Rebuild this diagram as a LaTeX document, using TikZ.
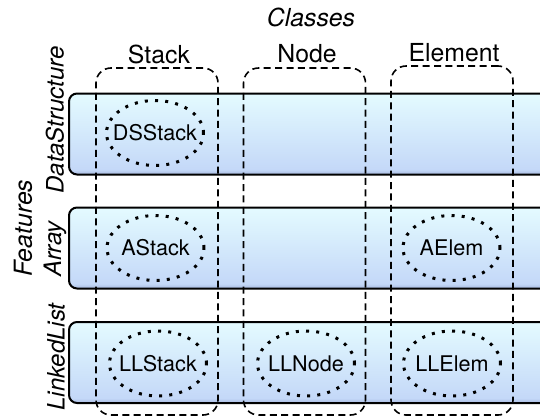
\documentclass[tikz,border=0pt]{standalone}
\usepackage{fontspec}
\setmainfont{TeX Gyre Heros}
\usetikzlibrary{shapes.geometric}
\definecolor{barTop}{HTML}{E4FBFF}
\definecolor{barBot}{HTML}{C4D8F8}
\definecolor{barEdge}{HTML}{A8BAE0}
\pgfdeclareverticalshading{barshade}{100bp}{%
    color(0bp)=(barEdge); color(25bp)=(barEdge); color(28bp)=(barBot);
    color(75bp)=(barTop); color(100bp)=(barTop)}
\tikzset{%
    featbar/.style={%
        draw, line width=1pt, rectangle, rounded corners=4pt,
        minimum width=300pt, minimum height=40.5pt, inner sep=0pt,
        shading=barshade
    },
    classbox/.style={%
        draw, line width=0.8pt, dash pattern=on 3.5pt off 2.2pt,
        rounded corners=7.5pt, minimum width=61pt, inner sep=0pt
    },
    fragment/.style={%
        ellipse, draw, line width=1.5pt,
        dash pattern=on 1.5pt off 3.6pt,
        minimum width=48.5pt, minimum height=32.5pt,
        inner xsep=-4pt, inner ysep=0pt,
        font=\fontsize{10.8}{12}\selectfont
    },
    header/.style={font=\fontsize{12.4}{14}\selectfont},
    sideways/.style={font=\fontsize{12}{14}\selectfont\itshape, rotate=90}
}

\begin{document}
\begin{tikzpicture}[x=0.5pt, y=-0.5pt]
\path[use as bounding box, clip] (0,0) rectangle (540,418);

% feature rows
\node[featbar, anchor=west] (DS) at (68,134) {};
\node[featbar, anchor=west] (Arr) at (68,248) {};
\node[featbar, anchor=west] (LL) at (68,362.5) {};

% class columns
\node[classbox, minimum height=173.5pt] (Stk) at (157,241.5) {};
\node[classbox, minimum height=173.5pt] (Nod) at (304.5,241.5) {};
\node[classbox, minimum height=174.5pt] (Elm) at (452,240.5) {};

% titles
\node[font=\fontsize{12.4}{14}\selectfont\itshape] (classes) at (311,17) {Classes};
\node[sideways, font=\fontsize{12.4}{14}\selectfont\itshape] (features) at (23,228) {Features};

\node[header] (tStk) at (159,54) {Stack};
\node[header] (tNod) at (307,54) {Node};
\node[header] (tElm) at (454,53) {Element};

\node[sideways] (tDS) at (55,120) {DataStructure};
\node[sideways] (tArr) at (55,249) {Array};
\node[sideways] (tLL) at (56,357) {LinkedList};

% fragments
\node[fragment] (P0) at (155,133) {DSStack};
\node[fragment] (P1) at (155.5,248) {AStack};
\node[fragment] (P2) at (451.5,248) {AElem};
\node[fragment] (P3) at (158,363.5) {LLStack};
\node[fragment] (P4) at (306,363.5) {LLNode};
\node[fragment] (P5) at (452,363.5) {LLElem};
\end{tikzpicture}
\end{document}
